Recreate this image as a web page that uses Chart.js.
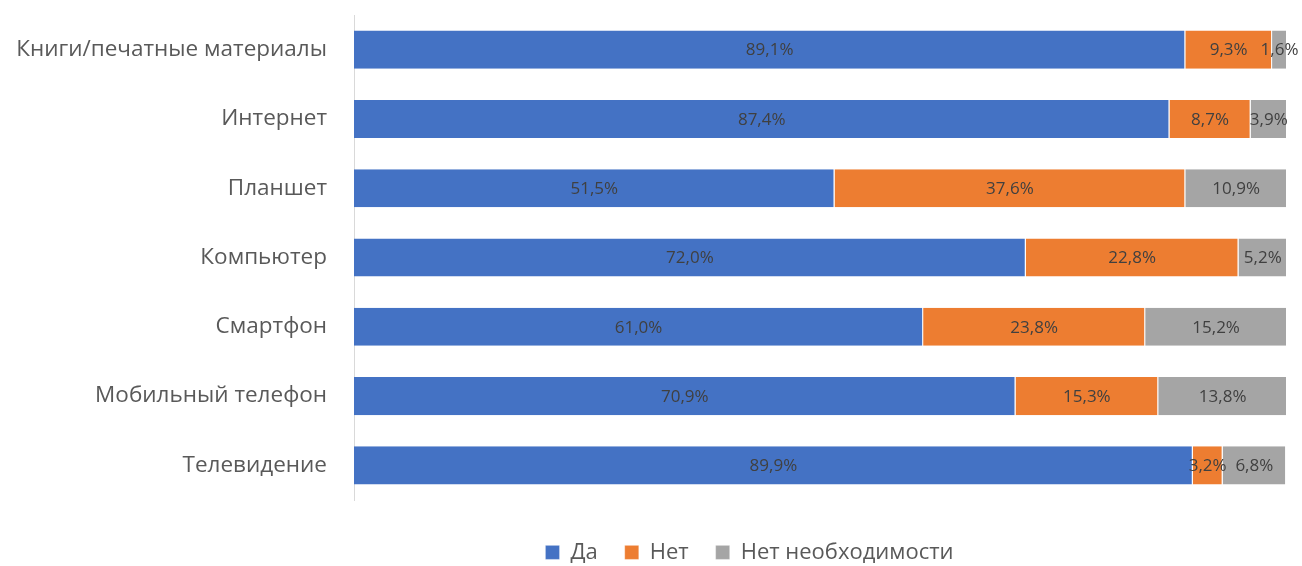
<!DOCTYPE html>
<html>
<head>
<meta charset="utf-8">
<script src="https://cdn.jsdelivr.net/npm/chart.js@4/dist/chart.umd.min.js"></script>
<style>
  html, body { margin: 0; padding: 0; background: #fff; }
  #wrap { width: 1302px; height: 566px; }
</style>
</head>
<body>
<div id="wrap"><canvas id="chart"></canvas></div>
<script>
const categories = ['Книги/печатные материалы', 'Интернет', 'Планшет', 'Компьютер', 'Смартфон', 'Мобильный телефон', 'Телевидение'];
const yesValues = [89.1, 87.4, 51.5, 72.0, 61.0, 70.9, 89.9];
const noValues = [9.3, 8.7, 37.6, 22.8, 23.8, 15.3, 3.2];
const notNeededValues = [1.6, 3.9, 10.9, 5.2, 15.2, 13.8, 6.8];
const seriesNames = ['Да', 'Нет', 'Нет необходимости'];
const seriesColors = ['#4472C4', '#ED7D31', '#A5A5A5'];

const FONT = "'Open Sans', sans-serif";

// draws the percentage in the middle of each segment
const segmentLabels = {
  id: 'segmentLabels',
  afterDatasetsDraw(chart) {
    const ctx = chart.ctx;
    ctx.save();
    ctx.font = '17px ' + FONT;
    ctx.fillStyle = '#404040';
    ctx.textAlign = 'center';
    ctx.textBaseline = 'middle';
    chart.data.datasets.forEach((ds, di) => {
      const meta = chart.getDatasetMeta(di);
      meta.data.forEach((bar, i) => {
        const cx = (bar.x + bar.base) / 2;
        ctx.fillText(ds.data[i].toFixed(1).replace('.', ',') + '%', cx, bar.y + 1);
      });
    });
    ctx.restore();
  }
};

// legend in the original sits a bit right of the canvas centre
const shiftLegend = {
  id: 'shiftLegend',
  afterLayout(chart) {
    chart.legend.left += 106;
    chart.legend.right += 106;
  }
};

const makeSet = (label, data, color) => ({
  label: label,
  data: data,
  backgroundColor: color,
  borderColor: '#ffffff',
  borderWidth: { top: 0, bottom: 0, left: 0, right: 1 },
  borderSkipped: false,
  categoryPercentage: 0.55,
  barPercentage: 1.0
});

new Chart(document.getElementById('chart').getContext('2d'), {
  type: 'bar',
  data: {
    labels: categories,
    datasets: [
      makeSet(seriesNames[0], yesValues, seriesColors[0]),
      makeSet(seriesNames[1], noValues, seriesColors[1]),
      makeSet(seriesNames[2], notNeededValues, seriesColors[2])
    ]
  },
  options: {
    indexAxis: 'y',
    responsive: true,
    maintainAspectRatio: false,
    animation: false,
    layout: { padding: { top: 15, right: 15, left: 0, bottom: 0 } },
    scales: {
      x: {
        stacked: true,
        min: 0,
        max: 100,
        display: false
      },
      y: {
        stacked: true,
        grid: { display: false },
        border: { display: true, color: '#D9D9D9', width: 1 },
        ticks: {
          color: '#595959',
          font: { family: FONT, size: 22.5 },
          padding: 19
        },
        afterFit(scale) {
          scale.width = 354;
          scale.paddingTop = 0;
          scale.paddingBottom = 0;
        }
      }
    },
    plugins: {
      legend: {
        position: 'bottom',
        maxHeight: 66,
        title: { display: true, text: '', font: { size: 12 }, padding: 0 },
        labels: {
          color: '#595959',
          font: { family: FONT, size: 22 },
          boxWidth: 14,
          boxHeight: 14,
          padding: 27
        }
      },
      tooltip: { enabled: false }
    }
  },
  plugins: [segmentLabels, shiftLegend]
});
</script>
</body>
</html>
